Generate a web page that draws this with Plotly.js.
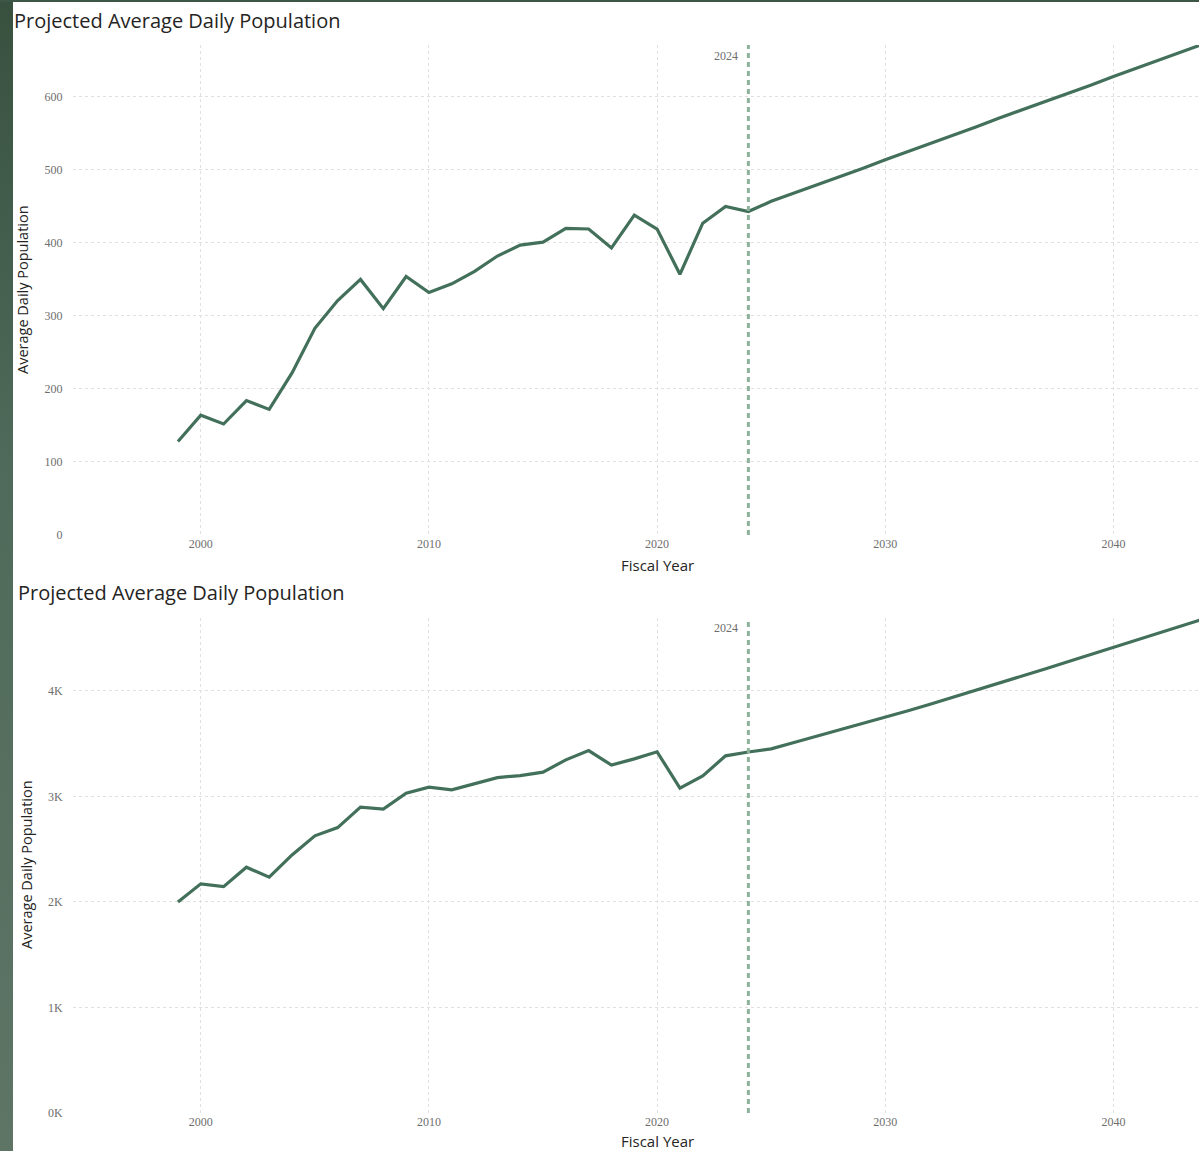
<!DOCTYPE html>
<html>
<head>
<meta charset="utf-8">
<script src="https://cdn.plot.ly/plotly-3.0.1.min.js"></script>
<style>
  html, body { margin: 0; padding: 0; background: #ffffff; }
  #wrap { position: relative; width: 1199px; height: 1151px; overflow: hidden; }
  #chart { position: absolute; left: 0; top: 0; width: 1199px; height: 1151px; }
  #strip { position: absolute; left: 0; top: 0; width: 13px; height: 1151px;
           background: linear-gradient(to bottom, #38513f 0%, #4f6a5a 40%, #5e7566 100%); z-index: 2; }
  #topbar { position: absolute; left: 0; top: 0; width: 1199px; height: 2px; background: #3d5646; z-index: 2; }
</style>
</head>
<body>
<div id="wrap">
  <div id="chart"></div>
  <div id="strip"></div>
  <div id="topbar"></div>
</div>
<script>
// ---- Data ----
const years = [1999,2000,2001,2002,2003,2004,2005,2006,2007,2008,2009,2010,2011,2012,2013,2014,2015,2016,2017,2018,2019,2020,2021,2022,2023,2024,
               2025,2026,2027,2028,2029,2030,2031,2032,2033,2034,2035,2036,2037,2038,2039,2040,2041,2042,2043,2044];

// Top chart: Projected Average Daily Population
const adpTop = [128,164,152,184,172,222,283,321,350,310,354,332,344,361,382,397,401,420,419,393,438,419,357,427,450,443,
                457,468,480,491,502,514,525,537,548,559,571,582,594,605,616,628,639,650,662,673];

// Bottom chart: Projected Average Daily Population
const adpBottom = [2000,2171,2145,2329,2234,2445,2626,2704,2898,2879,3030,3087,3062,3118,3178,3197,3229,3346,3434,3296,3355,3422,3078,3194,3384,3420,
                   3450,3510,3570,3628,3688,3748,3812,3876,3941,4007,4073,4140,4207,4275,4343,4411,4479,4547,4615,4685];

const markerYear = 2024;
const topTickVals = [0,100,200,300,400,500,600];
const topTickText = ['0','100','200','300','400','500','600'];
const botTickVals = [0,1000,2000,3000,4000];
const botTickText = ['0K','1K','2K','3K','4K'];
const xTickVals = [2000,2010,2020,2030,2040];
const xTickText = ['2000','2010','2020','2030','2040'];

const chartTitle = 'Projected Average Daily Population';
const yTitle = 'Average Daily Population';
const xTitle = 'Fiscal Year';

// ---- Layout helpers (pixel -> paper) ----
const W = 1199, H = 1151;
const px = x => x / W;
const py = y => 1 - y / H;

const lineColor = '#43705a';
const gridColor = '#e0e0e0';
const tickFont = { family: '"Liberation Serif", "DejaVu Serif", serif', size: 12, color: '#6e6e6e' };
const sansFont = '"Segoe UI", "Open Sans", "Noto Sans", sans-serif';

const traces = [
  { x: years, y: adpTop, xaxis: 'x', yaxis: 'y', type: 'scatter', mode: 'lines',
    line: { color: lineColor, width: 3.2 }, hoverinfo: 'skip' },
  { x: years, y: adpBottom, xaxis: 'x2', yaxis: 'y2', type: 'scatter', mode: 'lines',
    line: { color: lineColor, width: 3.2 }, hoverinfo: 'skip' }
];

const xr = [1994.4, 2043.75];
function xAxis() {
  return {
    domain: [px(73), 1], range: xr, tickmode: 'array', tickvals: xTickVals, ticktext: xTickText,
    showgrid: true, gridcolor: gridColor, griddash: 'dot', gridwidth: 1,
    zeroline: false, showline: false, ticks: '',
    tickfont: tickFont, fixedrange: true
  };
}
function yAxis(dom, range, vals, text) {
  return {
    domain: dom, range: range, tickmode: 'array', tickvals: vals, ticktext: text,
    showgrid: true, gridcolor: gridColor, griddash: 'dot', gridwidth: 1,
    zeroline: false, showline: false, ticks: 'outside', ticklen: 7, tickcolor: 'rgba(0,0,0,0)',
    tickfont: tickFont, fixedrange: true
  };
}

const layout = {
  width: W, height: H,
  margin: { l: 0, r: 0, t: 0, b: 0 },
  paper_bgcolor: 'rgba(0,0,0,0)', plot_bgcolor: 'rgba(0,0,0,0)',
  showlegend: false, hovermode: false,
  xaxis: Object.assign(xAxis(), { anchor: 'y' }),
  yaxis: Object.assign(yAxis([py(535), py(45)], [0, 671], topTickVals, topTickText), { anchor: 'x' }),
  xaxis2: Object.assign(xAxis(), { anchor: 'y2' }),
  yaxis2: Object.assign(yAxis([py(1113), py(618)], [0, 4690], botTickVals, botTickText), { anchor: 'x2' }),
  shapes: [
    { type: 'line', xref: 'x', yref: 'y domain', x0: markerYear, x1: markerYear, y0: 0, y1: 1,
      line: { color: '#8db29c', width: 3, dash: '5px,4px' } },
    { type: 'line', xref: 'x2', yref: 'y2 domain', x0: markerYear, x1: markerYear, y0: 0, y1: 1,
      line: { color: '#8db29c', width: 3, dash: '5px,4px' } }
  ],
  annotations: [
    { text: chartTitle, xref: 'paper', yref: 'paper', x: px(12), y: py(20), xanchor: 'left', yanchor: 'middle',
      showarrow: false, font: { family: sansFont, size: 20, color: '#252423' } },
    { text: chartTitle, xref: 'paper', yref: 'paper', x: px(16), y: py(592), xanchor: 'left', yanchor: 'middle',
      showarrow: false, font: { family: sansFont, size: 20, color: '#252423' } },
    { text: yTitle, xref: 'paper', yref: 'paper', x: px(22), y: py(290), xanchor: 'center', yanchor: 'middle',
      textangle: -90, showarrow: false, font: { family: sansFont, size: 14.5, color: '#252423' } },
    { text: yTitle, xref: 'paper', yref: 'paper', x: px(26), y: py(865), xanchor: 'center', yanchor: 'middle',
      textangle: -90, showarrow: false, font: { family: sansFont, size: 14.5, color: '#252423' } },
    { text: xTitle, xref: 'paper', yref: 'paper', x: px(657), y: py(565), xanchor: 'center', yanchor: 'middle',
      showarrow: false, font: { family: sansFont, size: 15, color: '#252423' } },
    { text: xTitle, xref: 'paper', yref: 'paper', x: px(657), y: py(1141), xanchor: 'center', yanchor: 'middle',
      showarrow: false, font: { family: sansFont, size: 15, color: '#252423' } },
    { text: String(markerYear), xref: 'x', yref: 'paper', x: markerYear, y: py(56), xanchor: 'right', yanchor: 'middle',
      xshift: -8, showarrow: false, font: tickFont },
    { text: String(markerYear), xref: 'x2', yref: 'paper', x: markerYear, y: py(628), xanchor: 'right', yanchor: 'middle',
      xshift: -8, showarrow: false, font: tickFont }
  ]
};

Plotly.newPlot('chart', traces, layout, { staticPlot: true, displayModeBar: false });
</script>
</body>
</html>
